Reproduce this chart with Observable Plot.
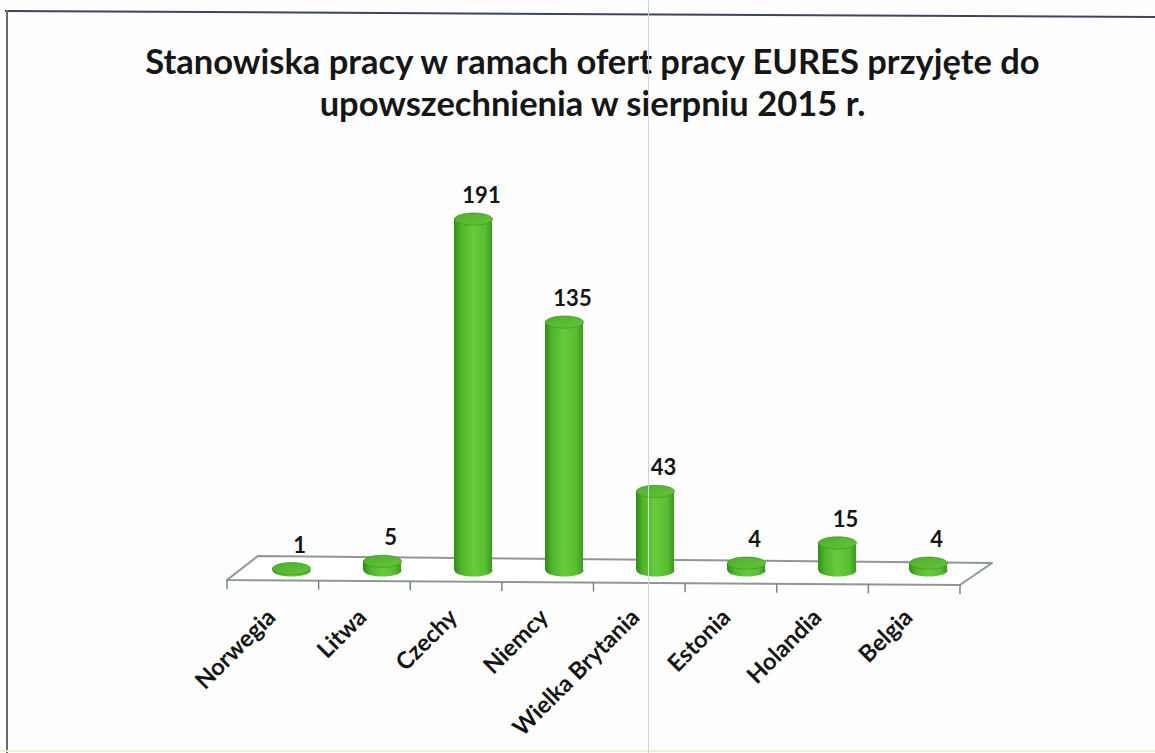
<!DOCTYPE html>
<html>
<head>
<meta charset="utf-8">
<script src="https://cdn.jsdelivr.net/npm/d3@7"></script>
<script src="https://cdn.jsdelivr.net/npm/@observablehq/plot@0.6"></script>
<style>
  html, body { margin: 0; padding: 0; background: #fefefe; }
  body { width: 1155px; height: 753px; position: relative; overflow: hidden; font-family: Lato, "Open Sans", sans-serif; }
  #title { height: 150px; box-sizing: border-box; padding-top: 40px; padding-left: 30px; text-align: center;
           font-weight: bold; font-size: 34.5px; line-height: 42px; color: #161616; }
  #title div { line-height: 42px; }
  .deco { position: absolute; pointer-events: none; }
</style>
</head>
<body>
<div id="title"><div>Stanowiska pracy w ramach ofert pracy EURES przyjęte do</div><div>upowszechnienia w sierpniu 2015 r.</div></div>
<div id="chart"></div>
<div class="deco" style="left:5px;top:10px;width:1165px;height:2px;background:#3b4660;transform:rotate(0.3deg);transform-origin:0 0;"></div>
<div class="deco" style="left:6px;top:10px;width:2px;height:743px;background:#6a6a6a;"></div>
<div class="deco" style="left:0;top:750px;width:1155px;height:2px;background:#f3efc8;"></div>
<div class="deco" style="left:648px;top:0;width:1px;height:753px;background:#cdd5dc;"></div>
<script>
const categories = ["Norwegia", "Litwa", "Czechy", "Niemcy", "Wielka Brytania", "Estonia", "Holandia", "Belgia"];
const values = [1, 5, 191, 135, 43, 4, 15, 4];
const yDomain = [0, 200];

const data = categories.map((c, i) => ({country: c, value: values[i]}));

// ellipse symbol for cylinder caps
const ellipse = {
  draw(context, size) {
    const rx = Math.sqrt(size / Math.PI), ry = rx * 0.32, k = 0.5523;
    context.moveTo(-rx, 0);
    context.bezierCurveTo(-rx, -ry * k, -rx * k, -ry, 0, -ry);
    context.bezierCurveTo(rx * k, -ry, rx, -ry * k, rx, 0);
    context.bezierCurveTo(rx, ry * k, rx * k, ry, 0, ry);
    context.bezierCurveTo(-rx * k, ry, -rx, ry * k, -rx, 0);
    context.closePath();
  }
};

function defsMark() {
  const defs = d3.create("svg:defs");
  const g = defs.append("linearGradient").attr("id", "cyl").attr("x1", 0).attr("x2", 1).attr("y1", 0).attr("y2", 0);
  [[0, "#318c16"], [0.18, "#4fb42b"], [0.5, "#66cc3c"], [0.82, "#58be32"], [1, "#3c981d"]]
    .forEach(([o, c]) => g.append("stop").attr("offset", o).attr("stop-color", c));
  const t = defs.append("linearGradient").attr("id", "cylTop").attr("x1", 0).attr("x2", 1).attr("y1", 0).attr("y2", 1);
  [[0, "#4fae2c"], [1, "#64c43b"]].forEach(([o, c]) => t.append("stop").attr("offset", o).attr("stop-color", c));
  return defs.node();
}

function floorMark(index, scales, values, dims) {
  const x0 = dims.marginLeft, x1 = dims.width - dims.marginRight;
  const y0 = scales.y(0);
  const bl = [x0 + 15, y0 - 14], br = [x1 + 17, y0 - 7];
  const fl = [x0 - 16, y0 + 10], fr = [x1 - 15, y0 + 15];
  const g = d3.create("svg:g");
  g.append("path")
    .attr("d", `M${bl}L${br}L${fr}L${fl}Z`)
    .attr("fill", "#ffffff").attr("stroke", "#8c9a8e").attr("stroke-width", 2).attr("stroke-linejoin", "round");
  const n = categories.length;
  for (let k = 0; k <= n; k++) {
    const x = fl[0] + (fr[0] - fl[0]) * k / n;
    const y = fl[1] + (fr[1] - fl[1]) * k / n;
    g.append("line").attr("x1", x).attr("x2", x).attr("y1", y).attr("y2", y + 9)
      .attr("stroke", "#7a857c").attr("stroke-width", 1.5);
  }
  return g.node();
}

const chart = Plot.plot({
  width: 1155,
  height: 603,
  marginLeft: 243,
  marginRight: 180,
  marginTop: 52,
  marginBottom: 183,
  x: {domain: categories, paddingInner: 0.585, paddingOuter: 0.2925, axis: null},
  y: {domain: yDomain, axis: null},
  style: {background: "transparent", fontFamily: "Lato, 'Open Sans', sans-serif", color: "#111"},
  marks: [
    defsMark,
    floorMark,
    Plot.dot(data, {x: "country", y: () => 0, r: 19, symbol: ellipse, fill: "url(#cyl)"}),
    Plot.barY(data, {x: "country", y: "value", fill: "url(#cyl)"}),
    Plot.dot(data, {x: "country", y: "value", r: 19, symbol: ellipse, fill: "url(#cylTop)", stroke: "#3d9620", strokeWidth: 0.7}),
    Plot.text(data, {x: "country", y: "value", text: d => String(d.value), dy: -23, dx: 8, fontSize: 22, fontWeight: "bold", fill: "#141414"}),
    Plot.text(data, {x: "country", y: () => 0, text: "country", rotate: -45, textAnchor: "end", dx: -20, dy: 43, fontSize: 23.5, fontWeight: "bold", fill: "#141414"})
  ]
});
document.getElementById("chart").appendChild(chart);
</script>
</body>
</html>
